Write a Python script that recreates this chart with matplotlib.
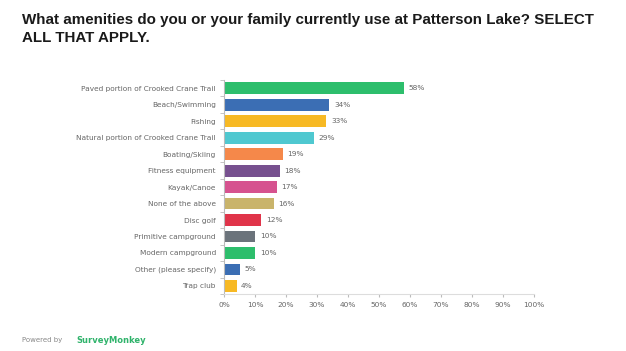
import matplotlib.pyplot as plt

categories = ["Paved portion of Crooked Crane Trail", "Beach/Swimming", "Fishing",
              "Natural portion of Crooked Crane Trail", "Boating/Skiing", "Fitness equipment",
              "Kayak/Canoe", "None of the above", "Disc golf", "Primitive campground",
              "Modern campground", "Other (please specify)", "Trap club"]
values = [58, 34, 33, 29, 19, 18, 17, 16, 12, 10, 10, 5, 4]
colors = ["#2dbe6c", "#3b6eb4", "#f7b924", "#4fc8d0", "#f5884a", "#77508f", "#d6528f",
          "#c9b46b", "#e0344a", "#6b737b", "#2dbe6c", "#3b6eb4", "#f7b924"]
xticks = [0, 10, 20, 30, 40, 50, 60, 70, 80, 90, 100]

fig = plt.figure(figsize=(6.26, 3.51), dpi=100)
ax = fig.add_axes([0.358, 0.162, 0.495, 0.61])

y = list(range(len(categories)))
ax.barh(y, values, color=colors, height=0.72)
ax.set_ylim(len(categories) - 0.5, -0.5)
ax.set_xlim(0, 100)
ax.set_yticks(y)
ax.set_yticklabels(categories, fontsize=5.3, color="#666666")
ax.set_xticks(xticks)
ax.set_xticklabels([f"{t}%" for t in xticks], fontsize=5.3, color="#666666")
for i, v in enumerate(values):
    ax.text(v + 1.5, i, f"{v}%", va="center", fontsize=5.3, color="#666666")

ax.tick_params(axis="y", length=0, pad=6)
ax.tick_params(axis="x", length=2, color="#bbbbbb", pad=4)
# small separators between categories on the left axis
ax.set_yticks([i + 0.5 for i in range(-1, len(categories))], minor=True)
ax.tick_params(axis="y", which="minor", length=3, color="#bbbbbb")
for s in ["top", "right"]:
    ax.spines[s].set_visible(False)
ax.spines["left"].set_color("#bbbbbb")
ax.spines["bottom"].set_color("#dddddd")
ax.spines["left"].set_linewidth(0.8)

fig.text(0.035, 0.962, "What amenities do you or your family currently use at Patterson Lake? SELECT\nALL THAT APPLY.",
         fontsize=10.9, fontweight="bold", family="Liberation Sans", color="#1a1a1a",
         va="top", ha="left", linespacing=1.3)

fig.text(0.035, 0.03, "Powered by", fontsize=5, color="#888888", va="center")
fig.text(0.122, 0.03, "SurveyMonkey", fontsize=6, color="#2fb36b", fontweight="bold", va="center")

fig.savefig("out.png", dpi=100, facecolor="white")
